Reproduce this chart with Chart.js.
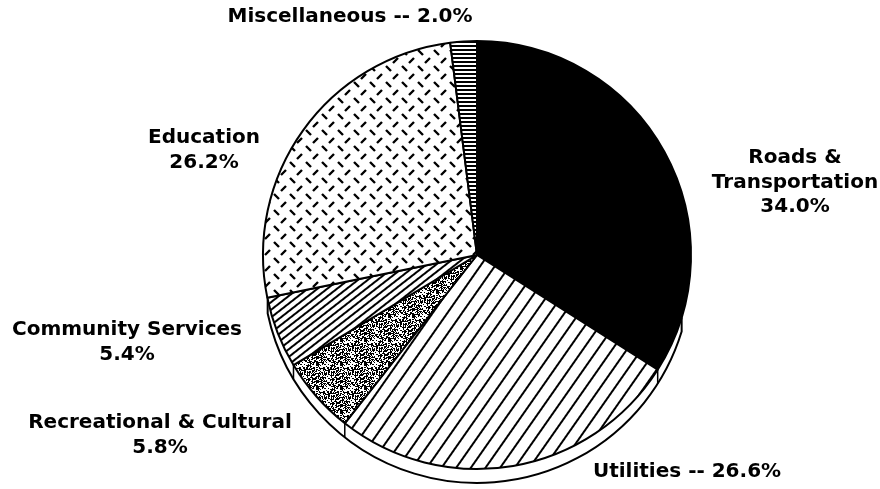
<!DOCTYPE html>
<html>
<head>
<meta charset="utf-8">
<script src="https://cdn.jsdelivr.net/npm/chart.js@4/dist/chart.umd.min.js"></script>
<style>
  html, body { margin: 0; padding: 0; background: #fff; }
  #wrap { width: 880px; height: 489px; }
</style>
</head>
<body>
<div id="wrap"><canvas id="pie-chart" width="880" height="489"></canvas></div>
<script>
// data
var categories = ['Roads & Transportation', 'Utilities', 'Recreational & Cultural', 'Community Services', 'Education', 'Miscellaneous'];
var shares = [34.0, 26.6, 5.8, 5.4, 26.2, 2.0];
// how each label is broken into lines ({v} = share)
var labelLines = [
    ['Roads &', 'Transportation', '{v}%'],
    ['Utilities -- {v}%'],
    ['Recreational & Cultural', '{v}%'],
    ['Community Services', '{v}%'],
    ['Education', '{v}%'],
    ['Miscellaneous -- {v}%']
];
// label centres (first line) in page pixels
var labelPos = [[795, 158], [687, 472], [160, 423], [127, 330], [204, 138], [350, 17]];

function makePattern(w, h, draw, matrix) {
    var c = document.createElement('canvas');
    c.width = w; c.height = h;
    var g = c.getContext('2d');
    g.fillStyle = '#fff';
    g.fillRect(0, 0, w, h);
    draw(g, w, h);
    var p = document.createElement('canvas').getContext('2d').createPattern(c, 'repeat');
    if (matrix) p.setTransform(matrix);
    return p;
}

var solidBlack = '#000';
var wideLines = makePattern(20, 12, function (g, w) {
    g.fillStyle = '#000'; g.fillRect(0, 5, w, 2);
}, new DOMMatrix().rotate(-55));
// grey stipple, fixed dither
var stipple = makePattern(24, 24, function (g) {
    g.fillStyle = '#000';
    var s = 12345;
    for (var y = 0; y < 24; y++)
        for (var x = 0; x < 24; x++) {
            s = (s * 1103515245 + 12345) & 0x7fffffff;
            if ((s >> 16) % 100 < 52) g.fillRect(x, y, 1, 1);
        }
});
var fineLines = makePattern(20, 6, function (g, w) {
    g.fillStyle = '#000'; g.fillRect(0, 2, w, 2);
}, new DOMMatrix().rotate(-38));
var dashes = makePattern(16, 16, function (g) {
    g.strokeStyle = '#000'; g.lineWidth = 2.4; g.lineCap = 'butt';
    g.beginPath();
    g.moveTo(2, 2); g.lineTo(7, 7);
    g.moveTo(9, 15); g.lineTo(14, 10);
    g.stroke();
});
var hLines = makePattern(8, 4, function (g, w) {
    g.fillStyle = '#000'; g.fillRect(0, 1, w, 2);
});

// 3d rim under the pie
var rimPlugin = {
    id: 'rim',
    afterDatasetsDraw: function (chart) {
        var arcs = chart.getDatasetMeta(0).data;
        if (!arcs.length) return;
        var cx = arcs[0].x, cy = arcs[0].y, r = arcs[0].outerRadius;
        var d = 14, a0 = 17 * Math.PI / 180, a1 = 168 * Math.PI / 180;
        var ctx = chart.ctx;
        ctx.save();
        ctx.strokeStyle = '#000';
        ctx.lineWidth = 2;
        ctx.beginPath();
        ctx.moveTo(cx + r * Math.cos(a0), cy + r * Math.sin(a0));
        ctx.lineTo(cx + r * Math.cos(a0), cy + d + r * Math.sin(a0));
        ctx.arc(cx, cy + d, r, a0, a1);
        ctx.lineTo(cx + r * Math.cos(a1), cy + r * Math.sin(a1));
        ctx.stroke();
        ctx.lineWidth = 1.5;
        arcs.forEach(function (a) {
            var t = a.startAngle;
            var tn = ((t % (2 * Math.PI)) + 2 * Math.PI) % (2 * Math.PI);
            if (tn > a0 && tn < a1) {
                ctx.beginPath();
                ctx.moveTo(cx + r * Math.cos(t), cy + r * Math.sin(t));
                ctx.lineTo(cx + r * Math.cos(t), cy + d + r * Math.sin(t));
                ctx.stroke();
            }
        });
        ctx.restore();
    }
};

var labelPlugin = {
    id: 'sliceLabels',
    afterDraw: function (chart) {
        var ctx = chart.ctx;
        ctx.save();
        ctx.fillStyle = '#000';
        ctx.font = 'bold 20px "DejaVu Sans", sans-serif';
        ctx.textAlign = 'center';
        ctx.textBaseline = 'middle';
        labelLines.forEach(function (lines, i) {
            lines.forEach(function (s, j) {
                var txt = s.replace('{v}', shares[i].toFixed(1));
                ctx.fillText(txt, labelPos[i][0], labelPos[i][1] + j * 24.5);
            });
        });
        ctx.restore();
    }
};

var ctx = document.getElementById('pie-chart').getContext('2d');
new Chart(ctx, {
    type: 'pie',
    data: {
        labels: categories,
        datasets: [{
            data: shares,
            backgroundColor: [solidBlack, wideLines, stipple, fineLines, dashes, hLines],
            borderColor: '#000',
            borderWidth: 2,
            hoverOffset: 0
        }]
    },
    options: {
        responsive: false,
        animation: false,
        layout: { padding: { left: 150, right: 76, top: 40, bottom: 19 } },
        plugins: {
            legend: { display: false },
            tooltip: { enabled: false }
        }
    },
    plugins: [rimPlugin, labelPlugin]
});
</script>
</body>
</html>
